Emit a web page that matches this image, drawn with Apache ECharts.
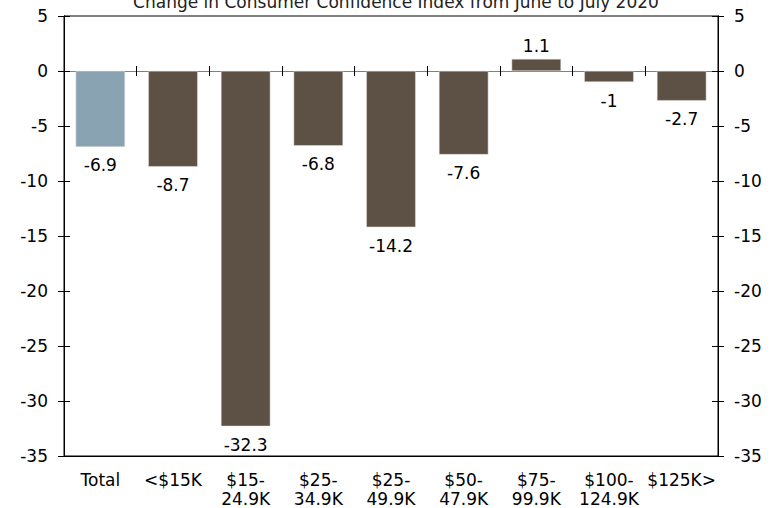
<!DOCTYPE html>
<html>
<head>
<meta charset="utf-8">
<script src="https://cdn.jsdelivr.net/npm/echarts@6/dist/echarts.min.js"></script>
<style>
  html, body { margin: 0; padding: 0; background: #fff; }
  #chart { width: 775px; height: 508px; }
</style>
</head>
<body>
<div id="chart"></div>
<script>
// consumer confidence change by income bracket
var categories = ['Total', '<$15K', '$15-\n24.9K', '$25-\n34.9K', '$25-\n49.9K', '$50-\n47.9K', '$75-\n99.9K', '$100-\n124.9K', '$125K>'];
var values = [-6.9, -8.7, -32.3, -6.8, -14.2, -7.6, 1.1, -1, -2.7];
var totalColor = '#8aa3b2';
var barColor = '#5d5145';
var font = 'DejaVu Sans';

(function() {
  var chart = echarts.init(document.getElementById('chart'), null, { renderer: 'svg' });

  // negatives get their label under the bar, positives above
  var data = values.map(function(v, i) {
    return {
      value: v,
      itemStyle: { color: i === 0 ? totalColor : barColor },
      label: { position: v < 0 ? 'bottom' : 'top', distance: v < 0 ? 10 : 4 }
    };
  });

  function yAx(pos, showLabel, inside) {
    return {
      type: 'value',
      position: pos,
      min: -35, max: 5, interval: 5,
      axisLine: { show: true, lineStyle: { color: '#000', width: 1 } },
      axisTick: { show: true, inside: inside, length: 6, lineStyle: { color: '#000' } },
      axisLabel: { show: showLabel, color: '#000', fontSize: 17, fontFamily: font, margin: 16 },
      splitLine: { show: false }
    };
  }

  chart.setOption({
    animation: false,
    title: {
      text: 'Change in Consumer Confidence Index from June to July 2020',
      left: 391, textAlign: 'center', top: -12,
      textStyle: { fontSize: 17, fontWeight: 'normal', color: '#222', fontFamily: font }
    },
    grid: { left: 64, right: 57, top: 16, bottom: 50, show: true, borderColor: '#000', borderWidth: 1 },
    xAxis: [
      {
        type: 'category', data: categories, position: 'bottom',
        axisLine: { show: true, onZero: false, lineStyle: { color: '#000' } },
        axisTick: { show: false },
        axisLabel: { color: '#000', fontSize: 17, fontFamily: font, margin: 14, lineHeight: 19, interval: 0 }
      },
      {
        type: 'category', data: categories, gridIndex: 0, position: 'bottom',
        axisLine: { show: true, onZero: true, onZeroAxisIndex: 0, lineStyle: { color: '#808080' } },
        axisTick: { show: true, length: 5, lineStyle: { color: '#000' } },
        axisLabel: { show: false }
      },
      {
        type: 'category', data: categories, gridIndex: 0, position: 'bottom',
        axisLine: { show: false, onZero: true, onZeroAxisIndex: 0 },
        axisTick: { show: true, inside: true, length: 5, lineStyle: { color: '#000' } },
        axisLabel: { show: false }
      }
    ],
    yAxis: [
      yAx('left', true, false),
      yAx('left', false, true),
      yAx('right', true, false),
      yAx('right', false, true)
    ],
    series: [{
      type: 'bar',
      data: data,
      barWidth: '68%',
      itemStyle: { borderColor: '#e6e2dc', borderWidth: 0.5 },
      label: {
        show: true,
        color: '#000',
        fontSize: 17,
        fontFamily: font
      }
    }]
  });
})();
</script>
</body>
</html>
